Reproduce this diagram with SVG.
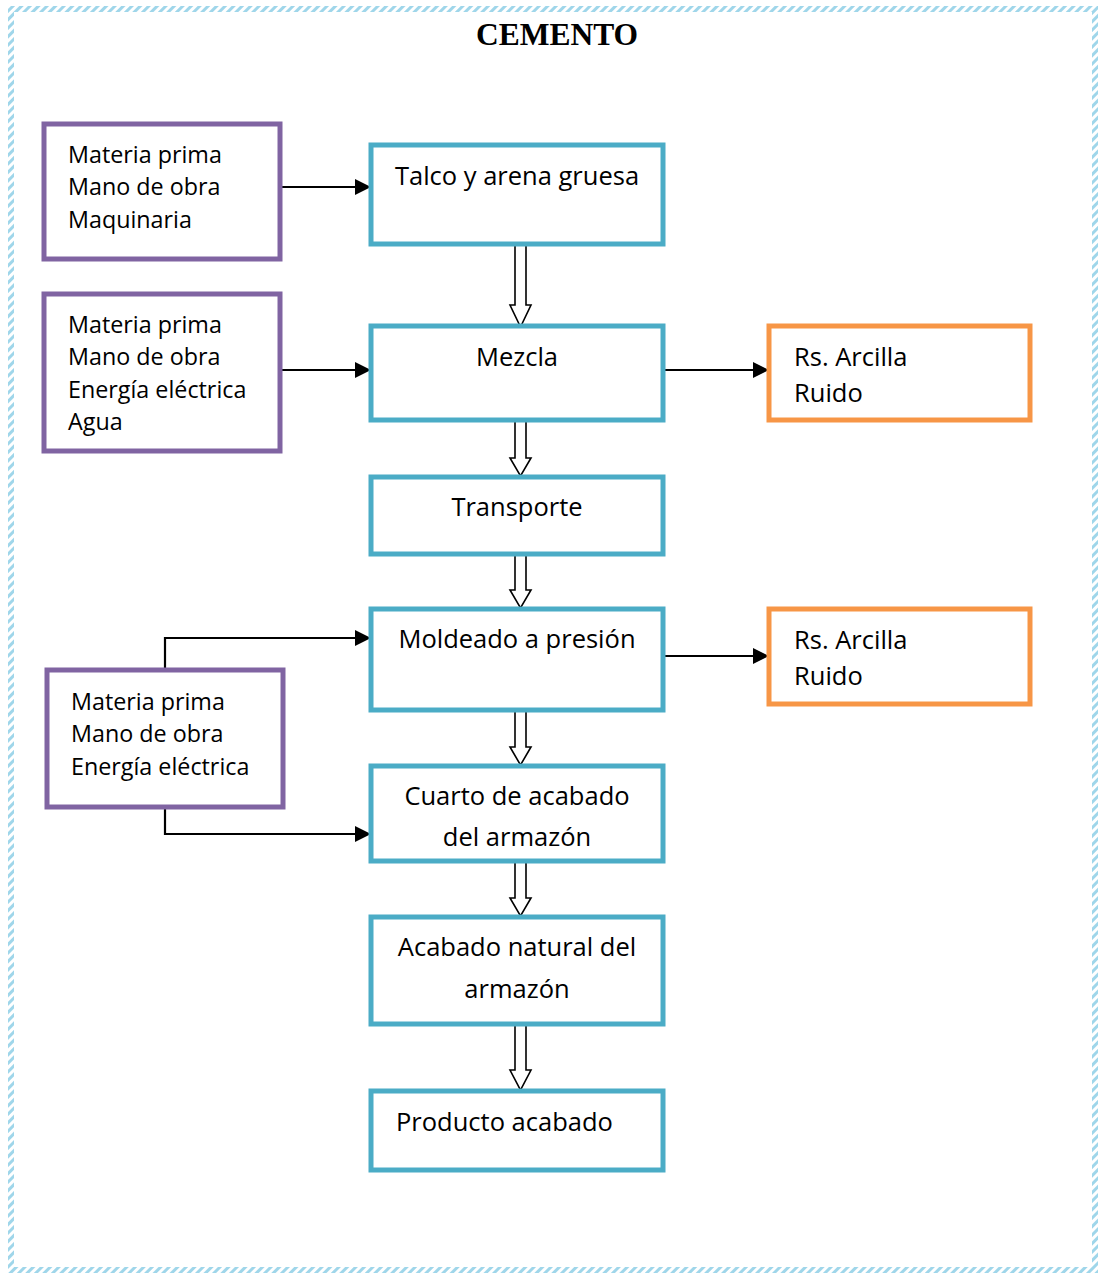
<svg xmlns="http://www.w3.org/2000/svg" width="1099" height="1274" viewBox="0 0 1099 1274">
<style>
.proc{fill:#fff;stroke:#4bacc6;stroke-width:5}
.inp{fill:#fff;stroke:#8064a2;stroke-width:5}
.out{fill:#fff;stroke:#f79646;stroke-width:5}
.t{font-family:"Open Sans","Liberation Sans",sans-serif;font-size:25.5px;fill:#000}
.ti{font-family:"Open Sans","Liberation Sans",sans-serif;font-size:23.3px;fill:#000}
.c{text-anchor:middle}
.ln{fill:none;stroke:#000;stroke-width:2.2}
.blk{fill:#fff;stroke:#000;stroke-width:1.6}
</style>
<defs>
<pattern id="hatch" width="6" height="6" patternUnits="userSpaceOnUse" patternTransform="rotate(45)">
<rect width="6" height="6" fill="#fff"/>
<rect width="3" height="6" fill="#9fd6ea"/>
</pattern>
<marker id="ah" viewBox="0 0 10 10" refX="10" refY="5" markerWidth="16" markerHeight="16" markerUnits="userSpaceOnUse" orient="auto">
<path d="M0,0 L10,5 L0,10 z" fill="#000"/>
</marker>
</defs>
<rect width="1099" height="1274" fill="#fff"/>
<rect x="11" y="9" width="1084" height="1261" fill="none" stroke="url(#hatch)" stroke-width="6"/>
<text x="557" y="45" text-anchor="middle" font-family="Liberation Serif,serif" font-weight="bold" font-size="31.5">CEMENTO</text>

<g id="connectors">
<line class="ln" x1="280" y1="187" x2="371" y2="187" marker-end="url(#ah)"/>
<line class="ln" x1="280" y1="370" x2="371" y2="370" marker-end="url(#ah)"/>
<line class="ln" x1="663" y1="370" x2="769" y2="370" marker-end="url(#ah)"/>
<line class="ln" x1="663" y1="656" x2="769" y2="656" marker-end="url(#ah)"/>
<polyline class="ln" points="165,670 165,638 371,638" marker-end="url(#ah)"/>
<polyline class="ln" points="165,807 165,834 371,834" marker-end="url(#ah)"/>
<path class="blk" d="M515,244 H526 V305 H531 L520.5,327 L510,305 H515 Z"/>
<path class="blk" d="M515,420 H526 V458 H531 L520.5,476 L510,458 H515 Z"/>
<path class="blk" d="M515,554 H526 V590 H531 L520.5,608 L510,590 H515 Z"/>
<path class="blk" d="M515,710 H526 V747 H531 L520.5,765 L510,747 H515 Z"/>
<path class="blk" d="M515,861 H526 V898 H531 L520.5,916 L510,898 H515 Z"/>
<path class="blk" d="M515,1024 H526 V1070 H531 L520.5,1090 L510,1070 H515 Z"/>
</g>

<g id="in1"><rect class="inp" x="44" y="124" width="236" height="135"/>
<text class="ti" x="68" y="163">Materia prima</text><text class="ti" x="68" y="195">Mano de obra</text><text class="ti" x="68" y="228">Maquinaria</text></g>
<g id="in2"><rect class="inp" x="44" y="294" width="236" height="157"/>
<text class="ti" x="68" y="333">Materia prima</text><text class="ti" x="68" y="365">Mano de obra</text><text class="ti" x="68" y="398">Energía eléctrica</text><text class="ti" x="68" y="430">Agua</text></g>
<g id="in3"><rect class="inp" x="47" y="670" width="236" height="137"/>
<text class="ti" x="71" y="710">Materia prima</text><text class="ti" x="71" y="742">Mano de obra</text><text class="ti" x="71" y="775">Energía eléctrica</text></g>

<g id="talco"><rect class="proc" x="371" y="145" width="292" height="99"/><text class="t c" x="517" y="185">Talco y arena gruesa</text></g>
<g id="mezcla"><rect class="proc" x="371" y="326" width="292" height="94"/><text class="t c" x="517" y="366">Mezcla</text></g>
<g id="transporte"><rect class="proc" x="371" y="477" width="292" height="77"/><text class="t c" x="517" y="516">Transporte</text></g>
<g id="moldeado"><rect class="proc" x="371" y="609" width="292" height="101"/><text class="t c" x="517" y="648">Moldeado a presión</text></g>
<g id="cuarto"><rect class="proc" x="371" y="766" width="292" height="95"/><text class="t c" x="517" y="805">Cuarto de acabado</text><text class="t c" x="517" y="846">del armazón</text></g>
<g id="natural"><rect class="proc" x="371" y="917" width="292" height="107"/><text class="t c" x="517" y="956">Acabado natural del</text><text class="t c" x="517" y="998">armazón</text></g>
<g id="producto"><rect class="proc" x="371" y="1091" width="292" height="79"/><text class="t" x="396" y="1131">Producto acabado</text></g>

<g id="out1"><rect class="out" x="769" y="326" width="261" height="94"/><text class="t" x="794" y="366">Rs. Arcilla</text><text class="t" x="794" y="402">Ruido</text></g>
<g id="out2"><rect class="out" x="769" y="609" width="261" height="95"/><text class="t" x="794" y="649">Rs. Arcilla</text><text class="t" x="794" y="685">Ruido</text></g>
</svg>
